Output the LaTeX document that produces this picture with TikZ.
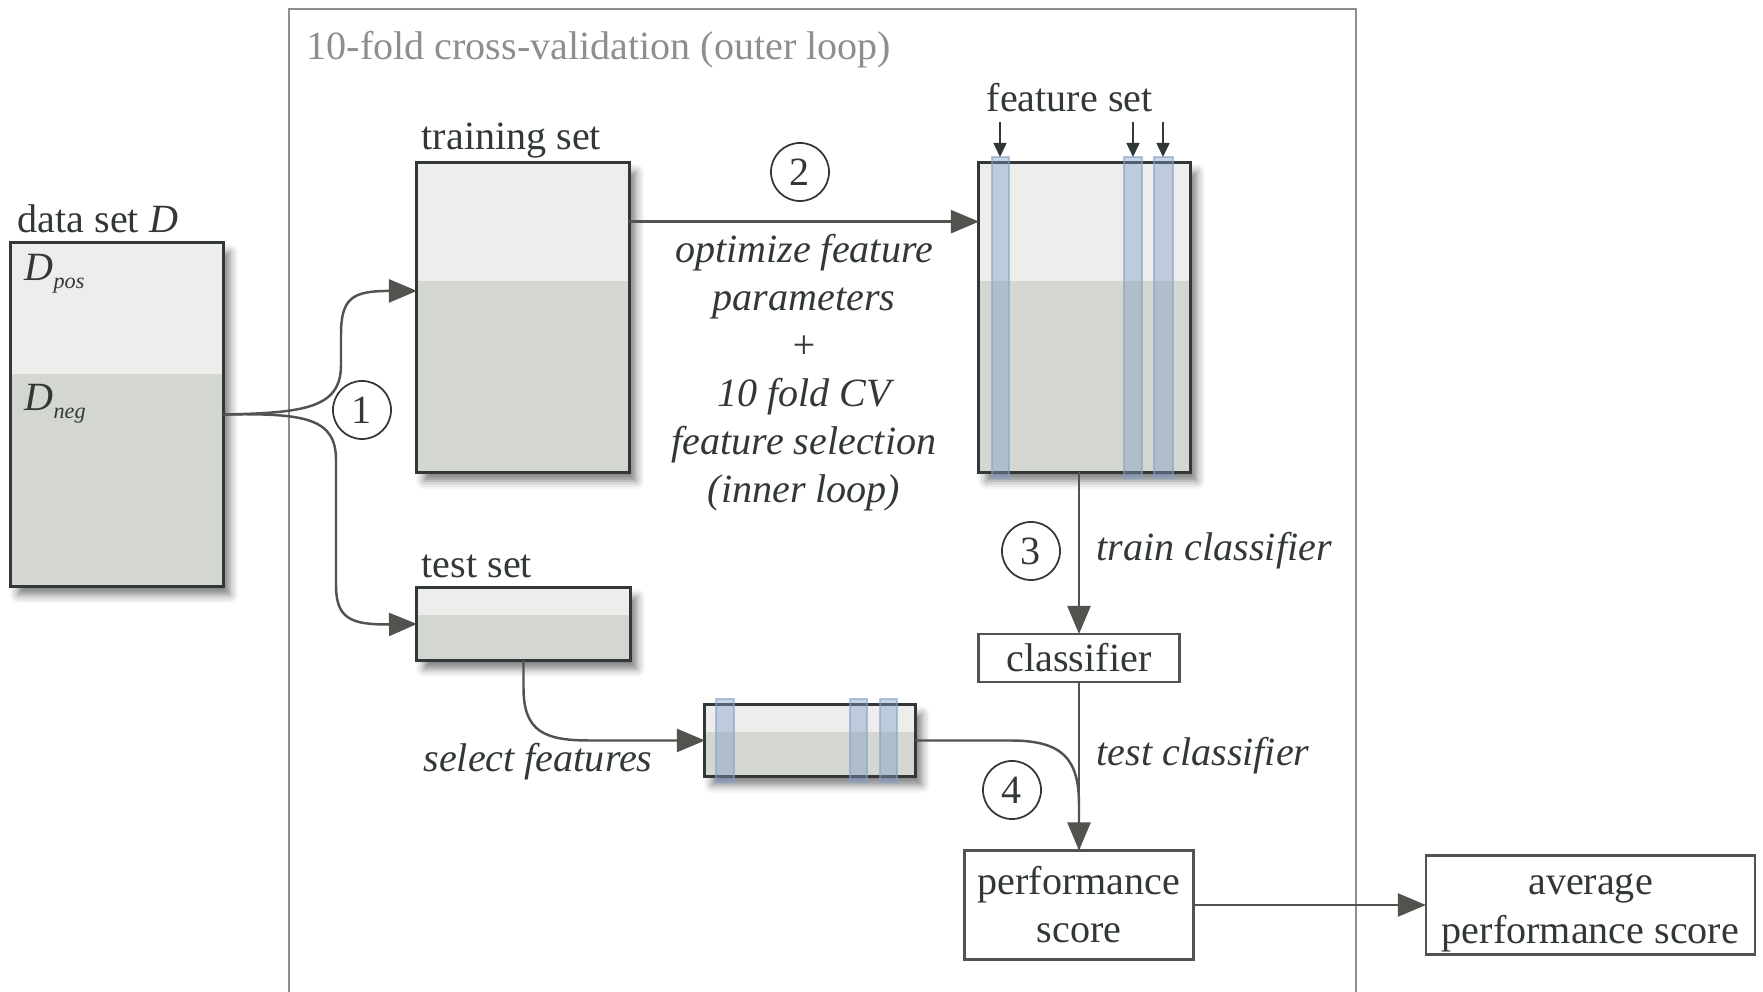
\documentclass[tikz,border=0pt]{standalone}
\usepackage{fontspec}
\setmainfont{Liberation Serif}
\usetikzlibrary{arrows.meta,shadows.blur,calc}
\definecolor{ink}{HTML}{323838}
\definecolor{linegray}{HTML}{50534E}
\definecolor{framegray}{HTML}{8E8E8E}
\definecolor{toplight}{HTML}{EDEDEB}
\definecolor{botdark}{HTML}{D4D7D0}
\definecolor{stripblue}{HTML}{7F9CC8}
\definecolor{stripline}{HTML}{86A0C6}
\newcommand{\fsz}{\fontsize{11.4}{13.66}\selectfont}
\newcommand{\subsz}{\fontsize{6.3}{6.3}\selectfont}
\begin{document}
\begin{tikzpicture}[x=0.01cm,y=-0.01cm,
  every node/.style={font=\fsz, text=ink},
  databox/.style={rectangle, draw=ink, line width=0.85pt, fill=botdark, inner sep=0pt, outer sep=0pt,
    blur shadow={shadow xshift=0.07cm, shadow yshift=-0.09cm, shadow blur radius=0.08cm, shadow opacity=50}},
  plainbox/.style={rectangle, draw=linegray, line width=0.7pt, fill=white, inner sep=0pt, outer sep=0pt, align=center},
  cline/.style={draw=linegray, line width=0.7pt},
  arr/.style={cline, -{Triangle[length=2.8mm,width=2.3mm]}},
  smallarr/.style={draw=ink, line width=0.45pt, -{Triangle[length=1.4mm,width=1.3mm]}},
  circ/.style={circle, draw=ink, line width=0.5pt, minimum size=0.58cm, inner sep=0pt},
  stripbox/.style={fill=stripblue, fill opacity=0.42, draw=stripline, draw opacity=0.6, line width=0.4pt},
  bordr/.style={draw=ink, line width=0.85pt},
  lbl/.style={anchor=base west, inner sep=0pt},
  ital/.style={font=\fsz\itshape}
]
\useasboundingbox (0,0) rectangle (1763,992);
% outer frame
\draw[framegray, line width=0.7pt] (289,1000) -- (289,9) -- (1356,9) -- (1356,1000);
\node[lbl, text=framegray] (title) at (306,60) {10-fold cross-validation (outer loop)};

% data set
\node[databox, minimum width=2.12cm, minimum height=3.43cm] (ds) at (117,414.5) {};
\fill[toplight] (11,243) rectangle (223,374);
\draw[bordr] (ds.north west) rectangle (ds.south east);
\node[lbl] (dslbl) at (17,233) {data set \textit{D}};
\node[lbl] (dpos) at (24,281) {\textit{D}\raisebox{-2pt}{\subsz\itshape pos}};
\node[lbl] (dneg) at (24,411) {\textit{D}\raisebox{-2pt}{\subsz\itshape neg}};

% training set
\node[databox, minimum width=2.12cm, minimum height=3.09cm] (tr) at (523,317.5) {};
\fill[toplight] (417,163) rectangle (629,281);
\draw[bordr] (tr.north west) rectangle (tr.south east);
\node[lbl] (trlbl) at (421,150) {training set};

% test set
\node[databox, minimum width=2.13cm, minimum height=0.72cm] (te) at (523.5,624) {};
\fill[toplight] (417,588) rectangle (630,615);
\draw[bordr] (te.north west) rectangle (te.south east);
\node[lbl] (telbl) at (421,578) {test set};

% feature set box
\node[databox, minimum width=2.11cm, minimum height=3.09cm] (fs) at (1084.5,317.5) {};
\fill[toplight] (979,163) rectangle (1190,281);
\draw[bordr] (fs.north west) rectangle (fs.south east);
\filldraw[stripbox] (992,157) rectangle (1009,478);
\filldraw[stripbox] (1124,157) rectangle (1142,478);
\filldraw[stripbox] (1154,157) rectangle (1173,478);
\node[lbl] (fslbl) at (986,112) {feature set};
\coordinate (fa1) at (1000,122); \coordinate (fb1) at (1000,157);
\coordinate (fa2) at (1133,122); \coordinate (fb2) at (1133,157);
\coordinate (fa3) at (1163,122); \coordinate (fb3) at (1163,157);
\draw[smallarr] (fa1) -- (fb1);
\draw[smallarr] (fa2) -- (fb2);
\draw[smallarr] (fa3) -- (fb3);

% selected features test box
\node[databox, minimum width=2.10cm, minimum height=0.71cm] (sm) at (810,740.5) {};
\fill[toplight] (705,705) rectangle (915,732);
\draw[bordr] (sm.north west) rectangle (sm.south east);
\filldraw[stripbox] (716,699) rectangle (734,782);
\filldraw[stripbox] (850,699) rectangle (867,782);
\filldraw[stripbox] (880,699) rectangle (897,782);

% plain boxes
\node[plainbox, minimum width=2.01cm, minimum height=0.48cm] (cl) at (1079,658) {classifier};
\node[plainbox, minimum width=2.29cm, minimum height=1.09cm] (ps) at (1079,905) {performance\\score};
\node[plainbox, minimum width=3.29cm, minimum height=0.99cm] (av) at (1590.5,905) {};
\node[align=center, inner sep=0pt] (avt) at (1590.5,913) {average\\performance score};

% circles
\node[circ] (c1) at (362,410) {1};
\node[circ] (c2) at (800,172) {2};
\node[circ] (c3) at (1031,551) {3};
\node[circ] (c4) at (1012,790) {4};

% text labels
\node[ital, align=center] (opt) at (804,373) {optimize feature\\parameters\\+\\10 fold CV\\feature selection\\(inner loop)};
\node[ital, lbl] (trcl) at (1096,561) {train classifier};
\node[ital, lbl] (tecl) at (1096,766) {test classifier};
\node[ital, anchor=base, inner sep=0pt] (self) at (538,772) {select features};

% connectors
\draw[arr] (ds.east) .. controls (305,413) and (341,408) .. (341,365) -- (341,335)
   .. controls (341,298) and (352,291) .. ($(tr.north west)!0.414!(tr.south west)$);
\draw[arr] (ds.east) .. controls (305,413) and (336,418) .. (336,460) -- (336,585)
   .. controls (336,618) and (350,625) .. (te.west);
\draw[arr] ($(tr.north east)!0.19!(tr.south east)$) -- ($(fs.north west)!0.19!(fs.south west)$);
\draw[arr] (fs.south -| cl.north) -- (cl.north);
\draw[arr] (te.south) -- (523.5,688) .. controls (523.5,732) and (545,740.5) .. (590,740.5) -- (sm.west);
\draw[cline] (sm.east) -- (1010,740.5) .. controls (1062,740.5) and (1079,758) .. (1079,805) -- (ps.north);
\draw[arr] (cl.south) -- (ps.north);
\draw[arr] (ps.east) -- (av.west);
\end{tikzpicture}
\end{document}
